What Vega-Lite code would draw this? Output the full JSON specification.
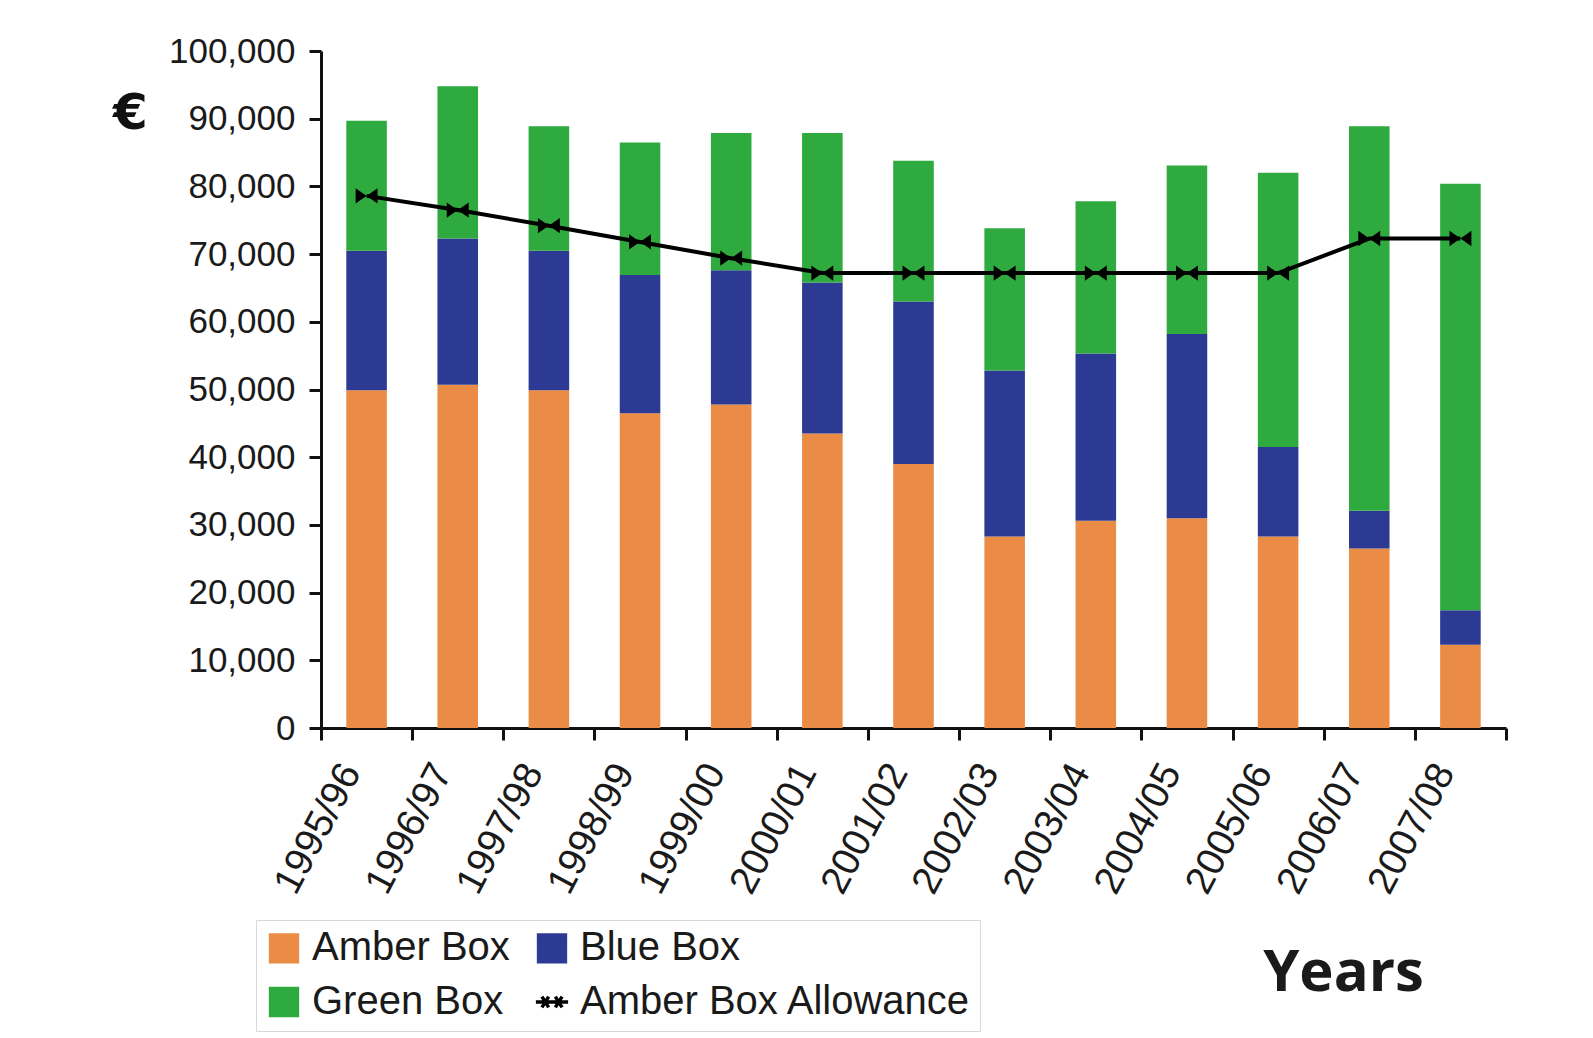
{
  "$schema": "https://vega.github.io/schema/vega-lite/v6.json",
  "width": 1185,
  "height": 677,
  "autosize": "none",
  "padding": {"left": 321, "top": 51, "right": 87, "bottom": 310},
  "background": "white",
  "config": {
    "view": {"stroke": null},
    "font": "Liberation Sans"
  },
  "datasets": {
    "boxes": [
      {"year": "1995/96", "box": "Amber Box", "value": 49900},
      {"year": "1995/96", "box": "Blue Box", "value": 20600},
      {"year": "1995/96", "box": "Green Box", "value": 19200},
      {"year": "1996/97", "box": "Amber Box", "value": 50700},
      {"year": "1996/97", "box": "Blue Box", "value": 21600},
      {"year": "1996/97", "box": "Green Box", "value": 22500},
      {"year": "1997/98", "box": "Amber Box", "value": 49900},
      {"year": "1997/98", "box": "Blue Box", "value": 20600},
      {"year": "1997/98", "box": "Green Box", "value": 18400},
      {"year": "1998/99", "box": "Amber Box", "value": 46500},
      {"year": "1998/99", "box": "Blue Box", "value": 20400},
      {"year": "1998/99", "box": "Green Box", "value": 19600},
      {"year": "1999/00", "box": "Amber Box", "value": 47800},
      {"year": "1999/00", "box": "Blue Box", "value": 19800},
      {"year": "1999/00", "box": "Green Box", "value": 20300},
      {"year": "2000/01", "box": "Amber Box", "value": 43500},
      {"year": "2000/01", "box": "Blue Box", "value": 22300},
      {"year": "2000/01", "box": "Green Box", "value": 22100},
      {"year": "2001/02", "box": "Amber Box", "value": 39000},
      {"year": "2001/02", "box": "Blue Box", "value": 24000},
      {"year": "2001/02", "box": "Green Box", "value": 20800},
      {"year": "2002/03", "box": "Amber Box", "value": 28300},
      {"year": "2002/03", "box": "Blue Box", "value": 24500},
      {"year": "2002/03", "box": "Green Box", "value": 21000},
      {"year": "2003/04", "box": "Amber Box", "value": 30600},
      {"year": "2003/04", "box": "Blue Box", "value": 24700},
      {"year": "2003/04", "box": "Green Box", "value": 22500},
      {"year": "2004/05", "box": "Amber Box", "value": 31000},
      {"year": "2004/05", "box": "Blue Box", "value": 27200},
      {"year": "2004/05", "box": "Green Box", "value": 24900},
      {"year": "2005/06", "box": "Amber Box", "value": 28300},
      {"year": "2005/06", "box": "Blue Box", "value": 13200},
      {"year": "2005/06", "box": "Green Box", "value": 40500},
      {"year": "2006/07", "box": "Amber Box", "value": 26500},
      {"year": "2006/07", "box": "Blue Box", "value": 5600},
      {"year": "2006/07", "box": "Green Box", "value": 56800},
      {"year": "2007/08", "box": "Amber Box", "value": 12300},
      {"year": "2007/08", "box": "Blue Box", "value": 5100},
      {"year": "2007/08", "box": "Green Box", "value": 63000}
    ],
    "allowance": [
      {"year": "1995/96", "box": "Amber Box Allowance", "value": 78600},
      {"year": "1996/97", "box": "Amber Box Allowance", "value": 76500},
      {"year": "1997/98", "box": "Amber Box Allowance", "value": 74200},
      {"year": "1998/99", "box": "Amber Box Allowance", "value": 71800},
      {"year": "1999/00", "box": "Amber Box Allowance", "value": 69400},
      {"year": "2000/01", "box": "Amber Box Allowance", "value": 67200},
      {"year": "2001/02", "box": "Amber Box Allowance", "value": 67200},
      {"year": "2002/03", "box": "Amber Box Allowance", "value": 67200},
      {"year": "2003/04", "box": "Amber Box Allowance", "value": 67200},
      {"year": "2004/05", "box": "Amber Box Allowance", "value": 67200},
      {"year": "2005/06", "box": "Amber Box Allowance", "value": 67200},
      {"year": "2006/07", "box": "Amber Box Allowance", "value": 72300},
      {"year": "2007/08", "box": "Amber Box Allowance", "value": 72300}
    ]
  },
  "encoding": {
    "x": {
      "field": "year",
      "type": "nominal",
      "sort": null,
      "scale": {"paddingInner": 0, "paddingOuter": 0},
      "axis": {
        "title": "Years",
        "titleFont": "Open Sans",
        "titleFontWeight": "bold",
        "titleFontSize": 58,
        "titleColor": "#1a1a1a",
        "titleAngle": 0,
        "titleAlign": "center",
        "titleBaseline": "middle",
        "titleX": 1022,
        "titleY": 245,
        "tickBand": "extent",
        "tickSize": 12,
        "tickWidth": 3,
        "tickColor": "#111",
        "domainColor": "#111",
        "domainWidth": 3,
        "labelAngle": -62,
        "labelAlign": "right",
        "labelBaseline": "middle",
        "labelPadding": 26,
        "labelOffset": -16,
        "labelFontSize": 39,
        "labelColor": "#1a1a1a"
      }
    },
    "y": {
      "field": "value",
      "type": "quantitative",
      "scale": {"domain": [0, 100000], "nice": false},
      "axis": {
        "title": "€",
        "titleFont": "DejaVu Sans",
        "titleFontWeight": "bold",
        "titleFontSize": 50,
        "titleColor": "#111",
        "titleAngle": 0,
        "titleAlign": "center",
        "titleBaseline": "middle",
        "titleX": -191,
        "titleY": 62,
        "values": [0, 10000, 20000, 30000, 40000, 50000, 60000, 70000, 80000, 90000, 100000],
        "format": ",d",
        "grid": false,
        "tickSize": 12,
        "tickWidth": 3,
        "tickColor": "#111",
        "domainColor": "#111",
        "domainWidth": 3,
        "labelPadding": 14,
        "labelFontSize": 35,
        "labelColor": "#1a1a1a"
      }
    }
  },
  "layer": [
    {
      "data": {"name": "boxes"},
      "mark": {"type": "bar", "width": {"band": 0.445}},
      "encoding": {
        "y": {"field": "value", "type": "quantitative", "stack": "zero"},
        "order": {"field": "box", "sort": "ascending"},
        "color": {
          "field": "box",
          "type": "nominal",
          "scale": {
            "domain": ["Amber Box", "Blue Box", "Green Box", "Amber Box Allowance"],
            "range": ["#EA8C45", "#2D3A94", "#2EAA3F", "#000000"]
          },
          "legend": {
            "title": null,
            "orient": "none",
            "direction": "horizontal",
            "legendX": -65,
            "legendY": 869,
            "columns": 2,
            "columnPadding": 18,
            "rowPadding": 12,
            "padding": 8,
            "fillColor": "white",
            "strokeColor": "#d8d8d8",
            "labelFont": "Liberation Sans",
            "labelFontSize": 40,
            "labelColor": "#1a1a1a",
            "labelLimit": 700,
            "labelOffset": 8,
            "symbolSize": 720,
            "symbolType": "square",
            "encode": {
              "symbols": {
                "update": {
                  "shape": {"signal": "datum.value === 'Amber Box Allowance' ? 'M-1.2,0L1.2,0M-0.75,-0.4L-0.25,0.4M-0.75,0.4L-0.25,-0.4M0.25,-0.4L0.75,0.4M0.25,0.4L0.75,-0.4' : 'square'"},
                  "stroke": {"signal": "datum.value === 'Amber Box Allowance' ? '#000' : 'transparent'"},
                  "strokeWidth": {"value": 3.5}
                }
              }
            }
          }
        }
      }
    },
    {
      "data": {"name": "allowance"},
      "mark": {"type": "line", "strokeWidth": 4},
      "encoding": {
        "color": {"field": "box", "type": "nominal"}
      }
    },
    {
      "data": {"name": "allowance"},
      "mark": {
        "type": "point",
        "shape": "M-1,-0.7L1,0.7L1,-0.7L-1,0.7Z",
        "filled": true,
        "size": 480,
        "opacity": 1,
        "color": "#000"
      },
      "encoding": {}
    }
  ]
}
